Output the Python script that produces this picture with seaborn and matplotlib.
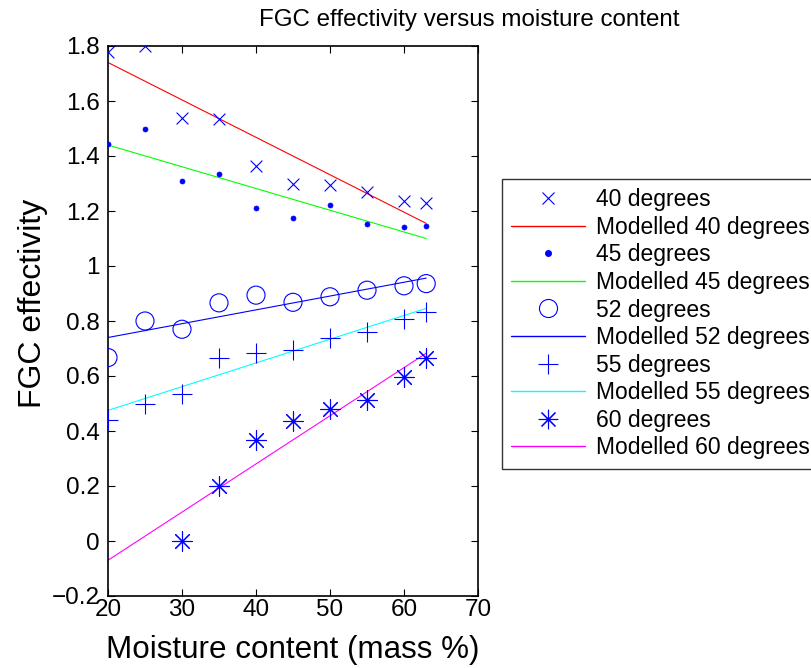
import numpy as np
import pandas as pd
import matplotlib
matplotlib.use("Agg")
import matplotlib.pyplot as plt
from matplotlib.lines import Line2D
import seaborn as sns

# ---- data ----
moisture = [20, 25, 30, 35, 40, 45, 50, 55, 60, 63]
eff_40 = [1.78, 1.80, 1.54, 1.535, 1.365, 1.30, 1.295, 1.27, 1.235, 1.228]
eff_45 = [1.445, 1.50, 1.308, 1.333, 1.21, 1.174, 1.222, 1.152, 1.143, 1.147]
eff_52 = [0.667, 0.80, 0.77, 0.866, 0.894, 0.868, 0.888, 0.912, 0.928, 0.936]
eff_55 = [0.441, 0.50, 0.535, 0.667, 0.683, 0.695, 0.74, 0.759, 0.806, 0.834]
moisture_60 = [30, 35, 40, 45, 50, 55, 60, 63]
eff_60 = [0.0, 0.200, 0.366, 0.435, 0.481, 0.514, 0.595, 0.665]

model_x = [20, 63]
model_40 = [1.74, 1.155]
model_45 = [1.44, 1.10]
model_52 = [0.74, 0.956]
model_55 = [0.475, 0.846]
model_60 = [-0.07, 0.683]

x_ticks = [20, 30, 40, 50, 60, 70]
y_ticks = [-0.2, 0, 0.2, 0.4, 0.6, 0.8, 1, 1.2, 1.4, 1.6, 1.8]
y_tick_labels = ["\u22120.2", "0", "0.2", "0.4", "0.6", "0.8", "1", "1.2", "1.4", "1.6", "1.8"]

sns.set_theme(style="white")
plt.rcParams['font.family'] = ['Liberation Sans', 'DejaVu Sans']
for k in ['text.color', 'axes.labelcolor', 'xtick.color', 'ytick.color']:
    plt.rcParams[k] = 'black'

W, H = 811, 668
fig = plt.figure(figsize=(W / 100, H / 100), dpi=100)
L, R, T, B = 108, 478, 46, 596
ax = fig.add_axes([L / W, 1 - B / H, (R - L) / W, (B - T) / H])

BLUE = '#0000ff'
star = (8, 2, 0)

# measured points
sns.scatterplot(x=moisture, y=eff_40, marker='x', s=8.5 ** 2, color=BLUE, linewidth=0.8, ax=ax, zorder=3)
sns.scatterplot(x=moisture, y=eff_45, marker='o', s=3.6 ** 2, color=BLUE, edgecolor=BLUE, linewidth=0.5, ax=ax, zorder=3)
sns.scatterplot(x=moisture, y=eff_52, marker='o', s=13 ** 2, facecolor='none', edgecolor=BLUE, linewidth=0.8, ax=ax, zorder=3)
sns.scatterplot(x=moisture, y=eff_55, marker='+', s=14 ** 2, color=BLUE, linewidth=0.8, ax=ax, zorder=3)
sns.scatterplot(x=moisture_60, y=eff_60, marker=star, s=14 ** 2, color=BLUE, linewidth=0.8, ax=ax, zorder=3)

# modelled lines
model_colors = ['#ff0000', '#00ff00', '#0000ff', '#00ffff', '#ff00ff']
for yv, c in zip([model_40, model_45, model_52, model_55, model_60], model_colors):
    sns.lineplot(x=model_x, y=yv, color=c, linewidth=0.8, ax=ax, zorder=2)

ax.set_xlim(20, 70)
ax.set_ylim(-0.2, 1.8)
ax.set_xticks(x_ticks)
ax.set_xticklabels([str(v) for v in x_ticks])
ax.set_yticks(y_ticks)
ax.set_yticklabels(y_tick_labels)
ax.tick_params(direction='in', length=5, width=0.8, colors='black', labelsize=17.5,
               top=True, right=True, left=True, bottom=True)
ax.tick_params(axis='x', pad=2)
ax.tick_params(axis='y', pad=6)
for s in ax.spines.values():
    s.set_color('black')
    s.set_linewidth(1.2)
ax.grid(False)

fig.text(293 / W, 1 - 650 / H, "Moisture content (mass %)", ha='center', va='center', fontsize=22.6)
fig.text(33 / W, 1 - 303 / H, "FGC effectivity", ha='center', va='center', rotation=90, fontsize=23)
fig.text(469 / W, 1 - 20 / H, "FGC effectivity versus moisture content", ha='center', va='center', fontsize=17.4)

labels = ["40 degrees", "Modelled 40 degrees", "45 degrees", "Modelled 45 degrees",
          "52 degrees", "Modelled 52 degrees", "55 degrees", "Modelled 55 degrees",
          "60 degrees", "Modelled 60 degrees"]
handles = [
    Line2D([0], [0], linestyle='none', marker='x', markersize=8.5, markeredgecolor=BLUE, markeredgewidth=0.8),
    Line2D([0], [0], color=model_colors[0], linewidth=1.0),
    Line2D([0], [0], linestyle='none', marker='o', markersize=4, markerfacecolor=BLUE, markeredgecolor=BLUE),
    Line2D([0], [0], color=model_colors[1], linewidth=1.0),
    Line2D([0], [0], linestyle='none', marker='o', markersize=13, markerfacecolor='none', markeredgecolor=BLUE, markeredgewidth=0.8),
    Line2D([0], [0], color=model_colors[2], linewidth=1.0),
    Line2D([0], [0], linestyle='none', marker='+', markersize=14, markeredgecolor=BLUE, markeredgewidth=0.8),
    Line2D([0], [0], color=model_colors[3], linewidth=1.0),
    Line2D([0], [0], linestyle='none', marker=star, markersize=14, markeredgecolor=BLUE, markeredgewidth=0.8),
    Line2D([0], [0], color=model_colors[4], linewidth=1.0),
]
leg = fig.legend(handles, labels, loc='upper left', bbox_to_anchor=(502 / W, 1 - 179 / H),
                 bbox_transform=fig.transFigure, borderaxespad=0, fontsize=16.5,
                 frameon=True, fancybox=False, handlelength=3.2, handletextpad=0.5,
                 labelspacing=0.2, borderpad=0.4, numpoints=1)
leg.get_frame().set_edgecolor('black')
leg.get_frame().set_linewidth(1.0)

fig.savefig("out.png", dpi=100)
